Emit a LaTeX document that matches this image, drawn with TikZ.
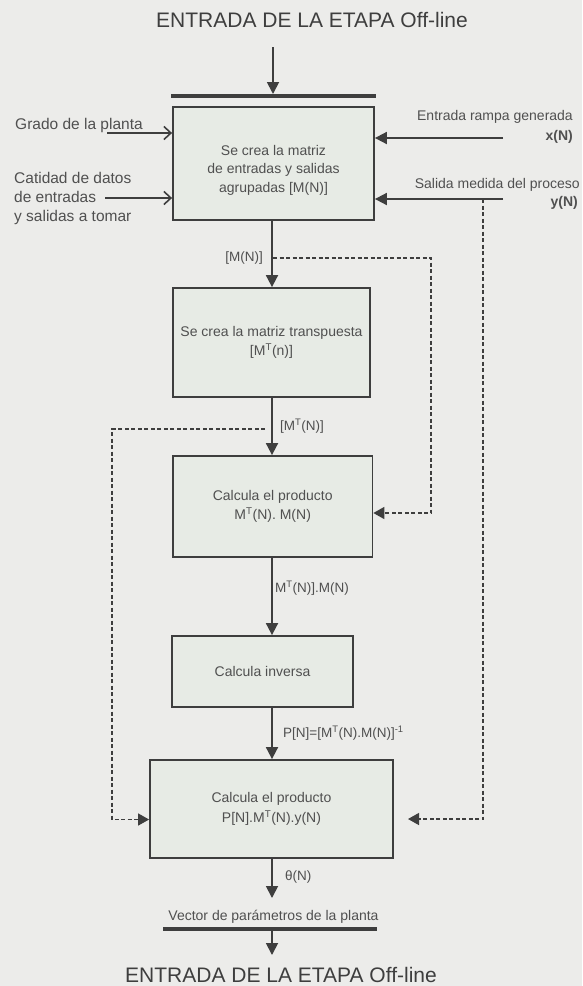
\documentclass[tikz,border=0pt]{standalone}
\usepackage{fontspec}
\setmainfont{Liberation Sans}
\usetikzlibrary{arrows.meta,calc}
\definecolor{bgc}{RGB}{236,236,234}
\definecolor{boxc}{RGB}{231,235,229}
\definecolor{linec}{RGB}{62,62,62}
\definecolor{txtc}{RGB}{80,80,80}
\begin{document}
\begin{tikzpicture}[x=1pt,y=-1pt,
  box/.style={draw=linec, line width=1.8pt, fill=boxc, align=center, text=txtc,
    font=\fontsize{14}{19.5}\selectfont, inner sep=0pt},
  lbl/.style={inner sep=0pt, text=txtc, font=\fontsize{13.5}{16}\selectfont},
  sidel/.style={inner sep=0pt, text=txtc, font=\fontsize{15.5}{19}\selectfont},
  sider/.style={inner sep=0pt, text=txtc, font=\fontsize{14}{18}\selectfont},
  flow/.style={draw=linec, line width=1.8pt, -{Triangle[length=12pt,width=12pt]}},
  dflow/.style={draw=linec, line width=1.4pt, dash pattern=on 4pt off 2.5pt, -{Triangle[length=11pt,width=12pt]}},
  barb/.style={draw=linec, line width=1.6pt, -{Straight Barb[length=7pt,width=13pt]}},
  ttl/.style={inner sep=0pt, text=linec, font=\fontsize{21}{24}\selectfont},
  thickbar/.style={draw=linec, line width=4pt},
]
\fill[bgc] (0,0) rectangle (582,986);
\useasboundingbox (0,0) rectangle (582,986);

% titles
\node[ttl] (ttop) at (312,20) {ENTRADA DE LA ETAPA Off-line};
\node[ttl] (tbot) at (281,975) {ENTRADA DE LA ETAPA Off-line};

% main line x
\coordinate (mx) at (272,0);

% top bar and arrow
\coordinate (tin) at (273,47);
\coordinate (barL) at (171,96);
\coordinate (barR) at (376,96);
\draw[thickbar] (barL) -- (barR);
\draw[flow] (tin) -- (273,94);

% boxes
\node[box, minimum width=201pt, minimum height=113pt,
  label={[text=txtc, font=\fontsize{14}{18.5}\selectfont, align=center, yshift=-6.5pt]center:{Se crea la matriz\\de entradas y salidas\\agrupadas [M(N)]}}]
  (b1) at (273.5,163.5) {};
\node[box, minimum width=197pt, minimum height=109pt] (b2) at (271.5,342.5)
  {Se crea la matriz transpuesta\\{}[M\textsuperscript{T}(n)]};
\node[box, minimum width=199.5pt, minimum height=101pt] (b3) at (272.7,506.5)
  {Calcula el producto\\M\textsuperscript{T}(N). M(N)};
\node[box, minimum width=181pt, minimum height=71pt] (b4) at (262.5,671.5)
  {Calcula inversa};
\node[box, minimum width=243pt, minimum height=98pt] (b5) at (271.5,809)
  {Calcula el producto\\P[N].M\textsuperscript{T}(N).y(N)};

% main flow
\draw[flow] (b1.south -| mx) -- (b2.north -| mx);
\draw[flow] (b2.south -| mx) -- (b3.north -| mx);
\draw[flow] (b3.south -| mx) -- (b4.north -| mx);
\draw[flow] (b4.south -| mx) -- (b5.north -| mx);
\coordinate (thend) at (272,898);
\draw[flow] (b5.south -| mx) -- (thend);

% connector labels
\node[lbl, anchor=east] (lm) at (263,258) {[M(N)]};
\node[lbl, anchor=west] (lmt) at (280,426) {[M\textsuperscript{T}(N)]};
\node[lbl, anchor=west] (lmm) at (275,588) {M\textsuperscript{T}(N)].M(N)};
\node[lbl, anchor=west] (lp) at (283,733) {P[N]=[M\textsuperscript{T}(N).M(N)]\textsuperscript{-1}};
\node[lbl, anchor=west] (lth) at (285,877) {θ(N)};

% bottom part
\node[sider] (vec) at (273.5,917) {Vector de parámetros de la planta};
\coordinate (bar2L) at (163,929);
\coordinate (bar2R) at (377,929);
\draw[linec, line width=3.5pt] (bar2L) -- (bar2R);
\coordinate (vout) at (272,929);
\coordinate (vend) at (272,955);
\draw[flow] (vout) -- (vend);

% dashed connections
\coordinate (j1) at (273,258);
\coordinate (r1) at (431,258);
\draw[dflow] (j1) -- (r1) |- ([yshift=-6.5pt]b3.east);
\coordinate (j2) at (265,429);
\coordinate (l2) at (112,429);
\draw[dflow] (j2) -- (l2) |- ([yshift=-10.5pt]b5.west);
\coordinate (j3) at (483,199);
\coordinate (r3) at (483,819);
\coordinate (t3) at (408,819);
\draw[dflow] (j3) -- (r3) -- (t3);

% left inputs
\node[sidel, anchor=west] (grado) at (15,125) {Grado de la planta};
\coordinate (gs) at (107,133);
\draw[barb] (gs) -- (gs -| b1.west);
\node[sidel, anchor=west, align=left] (cat) at (14,198) {Catidad de datos\\de entradas\\y salidas a tomar};
\coordinate (cs) at (105,198);
\draw[barb] (cs) -- (cs -| b1.west);

% right inputs
\node[sider, anchor=east] (ent) at (573,117) {Entrada rampa generada};
\node[sider, anchor=east] (xn) at (573,137) {\textbf{x(N)}};
\coordinate (xs) at (503,138);
\draw[flow] (xs) -- (xs -| b1.east);
\node[sider, anchor=east] (sal) at (580,185) {Salida medida del proceso};
\node[sider, anchor=east] (yn) at (578,203) {\textbf{y(N)}};
\coordinate (ys) at (503,199);
\draw[flow] (ys) -- (ys -| b1.east);
\end{tikzpicture}
\end{document}
